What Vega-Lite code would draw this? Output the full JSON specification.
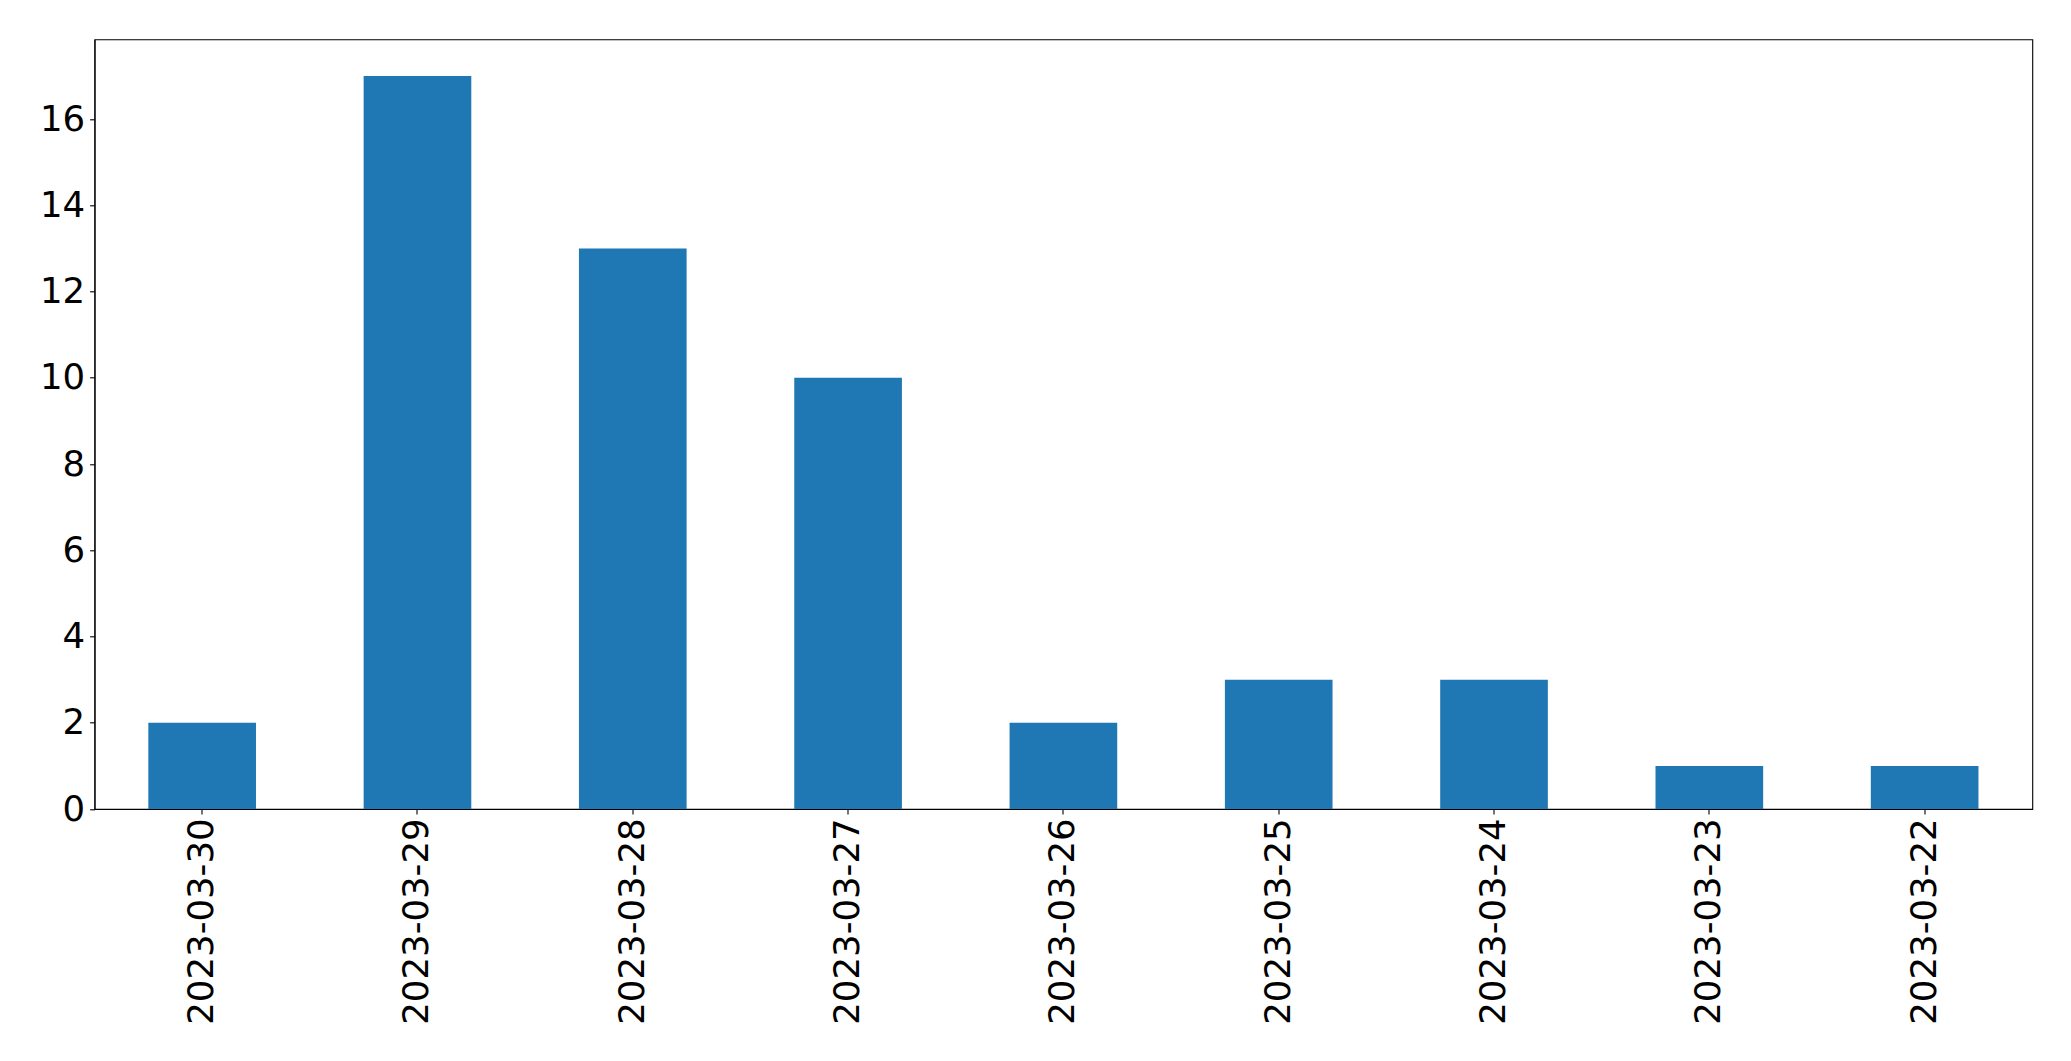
{
  "$schema": "https://vega.github.io/schema/vega-lite/v6.json",
  "autosize": {"type": "none"},
  "padding": {"left": 94.5, "top": 39.3, "right": 38.7, "bottom": 252},
  "width": 1937.8,
  "height": 769.7,
  "background": "white",
  "config": {
    "view": {"stroke": "black", "strokeWidth": 1.1},
    "font": "DejaVu Sans",
    "axis": {
      "grid": false,
      "domainColor": "black",
      "domainWidth": 1.1,
      "tickColor": "black",
      "tickWidth": 1.1,
      "tickSize": 4.9,
      "labelFont": "DejaVu Sans",
      "labelFontSize": 35.5,
      "labelColor": "black",
      "labelLimit": 0,
      "title": null
    }
  },
  "data": {
    "values": [
      {"date": "2023-03-30", "count": 2},
      {"date": "2023-03-29", "count": 17},
      {"date": "2023-03-28", "count": 13},
      {"date": "2023-03-27", "count": 10},
      {"date": "2023-03-26", "count": 2},
      {"date": "2023-03-25", "count": 3},
      {"date": "2023-03-24", "count": 3},
      {"date": "2023-03-23", "count": 1},
      {"date": "2023-03-22", "count": 1}
    ]
  },
  "mark": {"type": "bar", "color": "#1f77b4"},
  "encoding": {
    "x": {
      "field": "date",
      "type": "nominal",
      "sort": null,
      "scale": {"paddingInner": 0.5, "paddingOuter": 0.25},
      "axis": {"labelAngle": -90, "labelAlign": "right", "labelBaseline": "middle", "labelPadding": 4}
    },
    "y": {
      "field": "count",
      "type": "quantitative",
      "scale": {"domain": [0, 17.85], "nice": false, "zero": true},
      "axis": {"values": [0, 2, 4, 6, 8, 10, 12, 14, 16], "labelPadding": 5}
    }
  }
}
